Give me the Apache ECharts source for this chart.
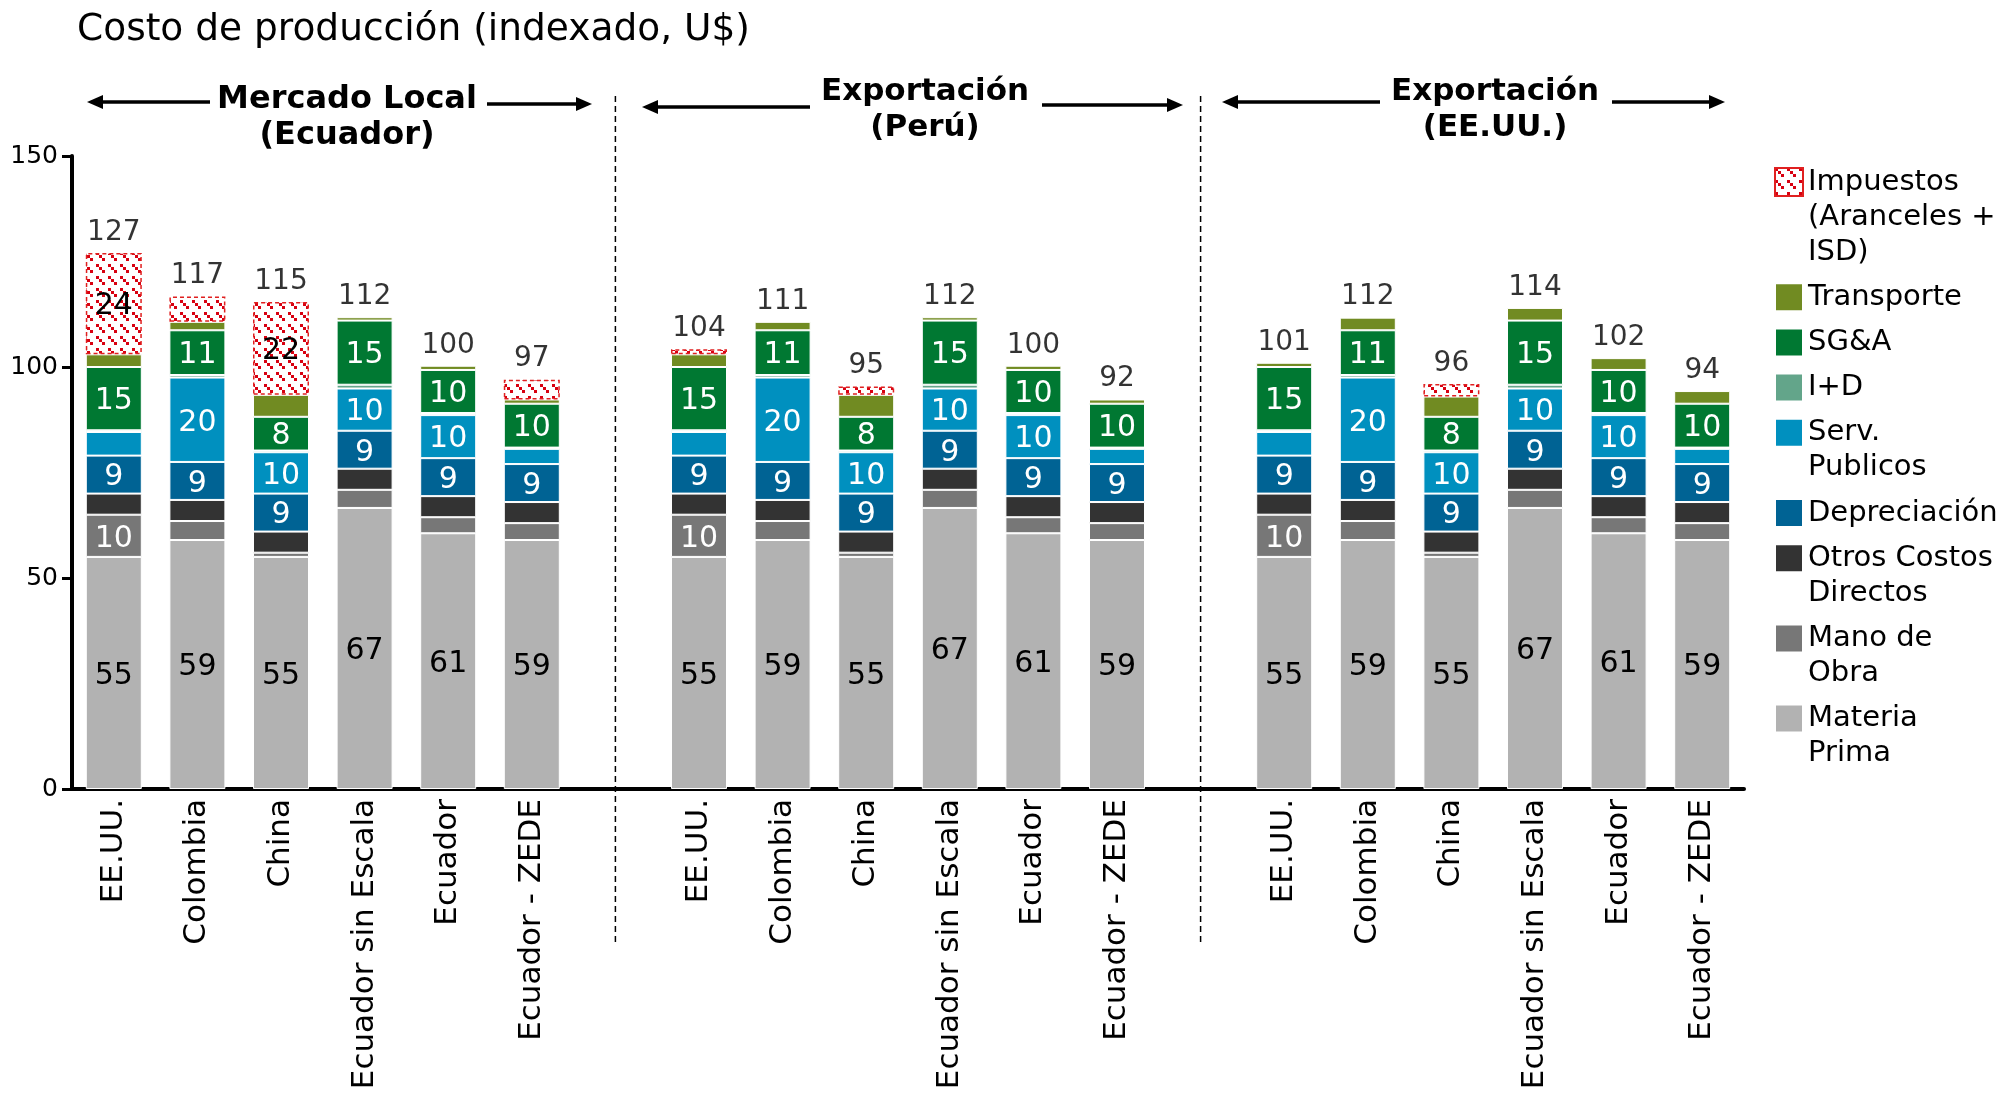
<!DOCTYPE html>
<html><head><meta charset="utf-8">
<script src="https://cdn.jsdelivr.net/npm/echarts@6/dist/echarts.min.js"></script>
<style>html,body{margin:0;padding:0;background:#fff}#c{width:2003px;height:1101px}</style>
</head><body><div id="c"></div>
<script>
// ---------------- DATA ----------------
const groupTitles = ['Mercado Local\n(Ecuador)', 'Exportación\n(Perú)', 'Exportación\n(EE.UU.)'];
const categories = ['EE.UU.', 'Colombia', 'China', 'Ecuador sin Escala', 'Ecuador', 'Ecuador - ZEDE'];
// 18 values per series: Mercado Local (6), Exportación Perú (6), Exportación EE.UU. (6)
const materiaPrima = [55, 59, 55, 66.6, 60.6, 59,   55, 59, 55, 66.6, 60.6, 59,   55, 59, 55, 66.6, 60.6, 59];
const manoDeObra   = [10, 4.5, 1, 4.3, 3.8, 4,      10, 4.5, 1, 4.3, 3.8, 4,      10, 4.5, 1, 4.3, 3.8, 4];
const otrosCostos  = [5, 5, 5, 5, 5, 5,             5, 5, 5, 5, 5, 5,             5, 5, 5, 5, 5, 5];
const depreciacion = [9, 9, 9, 9, 9, 9,             9, 9, 9, 9, 9, 9,             9, 9, 9, 9, 9, 9];
const servPublicos = [5.6, 20, 9.8, 10, 10.2, 3.6,  5.6, 20, 9.8, 10, 10.2, 3.6,  5.6, 20, 9.8, 10, 10.2, 3.6];
const iMasD        = [0.4, 0.6, 0.4, 0.9, 0.5, 0.3, 0.4, 0.6, 0.4, 0.9, 0.5, 0.3, 0.4, 0.6, 0.4, 0.9, 0.5, 0.3];
const sgya         = [15, 10.6, 8, 15.2, 10.2, 10.4, 15, 10.6, 8, 15.2, 10.2, 10.4, 15, 10.6, 8, 15.2, 10.2, 10.4];
const transporte   = [3, 2, 5.2, 0.8, 1, 1,         3, 2, 5.2, 0.8, 1, 1,         1, 3, 4.8, 3, 2.8, 3];
const impuestos    = [24, 6, 22, 0, 0, 4.7,         1.2, 0, 2, 0, 0, 0,           0, 0, 3, 0, 0, 0];

const legendLines = {
  'Impuestos (Aranceles + ISD)': 'Impuestos\n(Aranceles +\nISD)',
  'Transporte': 'Transporte',
  'SG&A': 'SG&A',
  'I+D': 'I+D',
  'Serv. Publicos': 'Serv.\nPublicos',
  'Depreciación': 'Depreciación',
  'Otros Costos Directos': 'Otros Costos\nDirectos',
  'Mano de Obra': 'Mano de\nObra',
  'Materia Prima': 'Materia\nPrima'
};
const legendOrder = ['Impuestos (Aranceles + ISD)', 'Transporte', 'SG&A', 'I+D', 'Serv. Publicos',
  'Depreciación', 'Otros Costos Directos', 'Mano de Obra', 'Materia Prima'];

// ---------------- HELPERS ----------------
const FONT = '"DejaVu Sans", Verdana, sans-serif';
function slots(arr) {
  const out = [];
  arr.forEach((v, i) => { if (i > 0 && i % 6 === 0) out.push(null); out.push(v === 0 ? null : v); });
  return out;
}
const xCats = [];
groupTitles.forEach((g, gi) => { if (gi > 0) xCats.push(''); categories.forEach(c => xCats.push(c)); });

// hatch pattern for taxes (red downward diagonal dashes on white)
const pat = document.createElement('canvas');
pat.width = 12; pat.height = 12;
const pc = pat.getContext('2d');
pc.fillStyle = '#ffffff'; pc.fillRect(0, 0, 12, 12);
pc.fillStyle = '#D80010';
[0, 3, 6].forEach(k => pc.fillRect(k, k, 3, 3));

const stackDefs = [
  { name: 'Materia Prima', values: materiaPrima, color: '#B2B2B2', label: '#000' },
  { name: 'Mano de Obra', values: manoDeObra, color: '#777777', label: '#fff' },
  { name: 'Otros Costos Directos', values: otrosCostos, color: '#333333', label: '#fff' },
  { name: 'Depreciación', values: depreciacion, color: '#006394', label: '#fff' },
  { name: 'Serv. Publicos', values: servPublicos, color: '#0090BF', label: '#fff' },
  { name: 'I+D', values: iMasD, color: '#63A58A', label: '#fff' },
  { name: 'SG&A', values: sgya, color: '#007832', label: '#fff' },
  { name: 'Transporte', values: transporte, color: '#718B22', label: '#fff' },
  { name: 'Impuestos (Aranceles + ISD)', values: impuestos, color: { image: pat, repeat: 'repeat' }, label: '#000', tax: true }
];

const totals = materiaPrima.map((_, i) => stackDefs.reduce((s, d) => s + d.values[i], 0));

const series = stackDefs.map(d => ({
  type: 'bar',
  name: d.name,
  stack: 'total',
  data: slots(d.values),
  barWidth: 56,
  itemStyle: d.tax
    ? { color: d.color, borderColor: '#E02020', borderWidth: 1.5, borderType: [4, 3] }
    : { color: d.color, borderColor: '#ffffff', borderWidth: 1 },
  label: {
    show: true, position: 'inside', offset: [0, 3], color: d.label, fontSize: 30, fontFamily: FONT,
    formatter: p => (p.value >= 7 ? String(Math.round(p.value)) : '')
  },
  emphasis: { disabled: true },
  silent: true
}));

series.push({
  type: 'scatter',
  name: 'Total',
  data: slots(totals),
  symbol: 'rect',
  symbolSize: 1,
  itemStyle: { color: 'rgba(0,0,0,0)' },
  label: {
    show: true, position: 'top', distance: 6, color: '#000', fontSize: 28, fontFamily: FONT,
    formatter: p => String(Math.round(Array.isArray(p.value) ? p.value[1] : p.value))
  },
  z: 10, silent: true
});

// legend: one component per item so the swatch sits beside the first text line
const LH = 35, GAP = 10.2, NBSP = '\u00a0';
const legends = [];
let c = 182;
legendOrder.forEach(n => {
  const lines = legendLines[n].split('\n');
  const k = lines.length;
  const txt = Array(k - 1).fill(NBSP).concat(lines).join('\n');
  legends.push({
    orient: 'vertical', left: 1774, top: c - (2 * k - 1) * LH / 2, padding: 0,
    itemWidth: 28, itemHeight: 28, selectedMode: false, icon: 'rect',
    textStyle: { fontSize: 29, color: '#000', lineHeight: LH, fontFamily: FONT },
    formatter: () => txt,
    data: [n]
  });
  c += k * LH + GAP;
});

const chart = echarts.init(document.getElementById('c'), null, { renderer: 'canvas' });
chart.setOption({
  animation: false,
  backgroundColor: '#ffffff',
  textStyle: { fontFamily: FONT },
  title: {
    text: 'Costo de producción (indexado, U$)',
    left: 77, top: 11, padding: 0,
    textStyle: { fontSize: 37.5, fontWeight: 'normal', color: '#000', fontFamily: FONT }
  },
  grid: { left: 72, right: 259, top: 156, bottom: 312, containLabel: false, outerBoundsMode: 'none' },
  legend: legends,
  xAxis: {
    type: 'category', data: xCats,
    axisLine: { show: true, lineStyle: { color: '#000', width: 4 } },
    axisTick: { show: false },
    axisLabel: { rotate: 90, interval: 0, fontSize: 31, color: '#000', margin: 10, fontFamily: FONT },
    splitLine: { show: false }
  },
  yAxis: {
    type: 'value', min: 0, max: 150, interval: 50,
    axisLine: { show: true, lineStyle: { color: '#000', width: 4 } },
    axisTick: { show: true, length: 10, lineStyle: { color: '#000', width: 3 } },
    axisLabel: { fontSize: 25, color: '#000', margin: 14, fontFamily: FONT },
    splitLine: { show: false }
  },
  series: series
});

// ---------------- ANNOTATIONS ----------------
function arrow(tipX, tailX, y) {
  const dir = tailX > tipX ? 1 : -1;
  const headLen = 16, half = 7;
  const baseX = tipX + dir * headLen;
  return [
    { type: 'line', shape: { x1: baseX, y1: y, x2: tailX, y2: y }, style: { stroke: '#000', lineWidth: 3.5 }, silent: true },
    { type: 'polygon', shape: { points: [[tipX, y], [baseX, y - half], [baseX, y + half]] }, style: { fill: '#000' }, silent: true }
  ];
}
const graphics = [];
[6, 13].map(i => chart.convertToPixel({ xAxisIndex: 0 }, i)).forEach(x => graphics.push({
  type: 'line', shape: { x1: x, y1: 96, x2: x, y2: 945 },
  style: { stroke: '#000', lineWidth: 1.5, lineDash: [6, 4] }, silent: true
}));
const headerPos = [
  { x: 347, y: 118, size: 32 },
  { x: 925, y: 110, size: 31 },
  { x: 1495, y: 110, size: 31 }
];
groupTitles.forEach((t, i) => graphics.push({
  type: 'text', x: headerPos[i].x, y: headerPos[i].y, silent: true,
  style: { text: t, fill: '#000', font: 'bold ' + headerPos[i].size + 'px ' + FONT, align: 'center', verticalAlign: 'middle', lineHeight: 36 }
}));
[
  [87, 210, 102], [592, 487, 104],
  [642, 810, 107], [1183, 1042, 105],
  [1222, 1380, 102], [1725, 1612, 102]
].forEach(a => arrow(a[0], a[1], a[2]).forEach(g => graphics.push(g)));
chart.setOption({ graphic: graphics });
</script>
</body></html>
